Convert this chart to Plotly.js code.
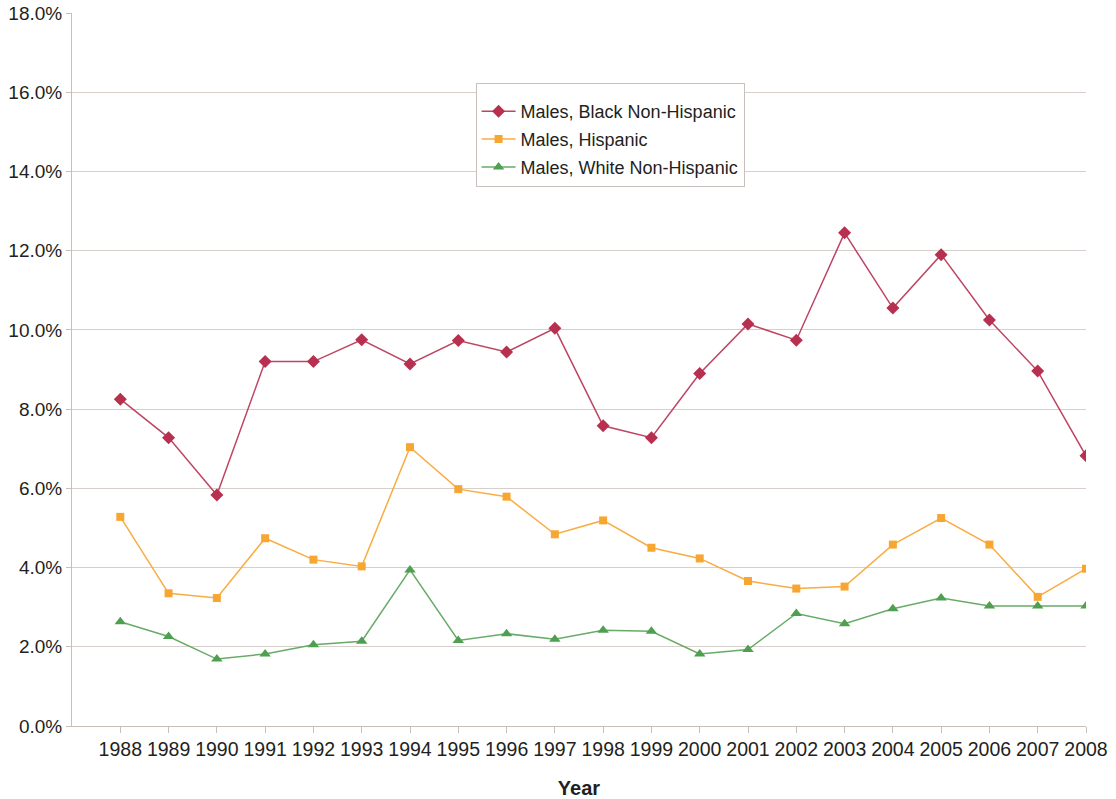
<!DOCTYPE html>
<html>
<head>
<meta charset="utf-8">
<script src="https://cdn.plot.ly/plotly-3.0.1.min.js"></script>
<style>html,body{margin:0;padding:0;background:#fff;}#chart{width:1116px;height:799px;}</style>
</head>
<body>
<div id="chart"></div>
<script>
const years = [1988,1989,1990,1991,1992,1993,1994,1995,1996,1997,1998,1999,2000,2001,2002,2003,2004,2005,2006,2007,2008];
const blackNonHispanic = [8.25,7.28,5.83,9.20,9.20,9.75,9.14,9.73,9.44,10.04,7.58,7.28,8.90,10.15,9.74,12.45,10.55,11.90,10.25,8.96,6.82];
const hispanic = [5.28,3.35,3.23,4.74,4.20,4.03,7.04,5.98,5.79,4.84,5.19,4.50,4.23,3.66,3.47,3.52,4.58,5.25,4.58,3.26,3.97];
const whiteNonHispanic = [2.63,2.26,1.69,1.82,2.05,2.14,3.94,2.16,2.33,2.19,2.42,2.39,1.82,1.93,2.84,2.58,2.96,3.23,3.03,3.03,3.03];
const seriesNames = ["Males, Black Non-Hispanic","Males, Hispanic","Males, White Non-Hispanic"];
const yTicks = [0,2,4,6,8,10,12,14,16,18];

const traces = [
  {x: years, y: blackNonHispanic, name: seriesNames[0], legendgroup: 'a', type: 'scatter', mode: 'lines+markers',
   line: {color: '#bd4563', width: 1.5}, marker: {symbol: 'diamond', size: 10, color: '#b8304f'}},
  {x: years, y: hispanic, name: seriesNames[1], legendgroup: 'b', type: 'scatter', mode: 'lines+markers',
   line: {color: '#f9ac42', width: 1.5}, marker: {symbol: 'square', size: 8, color: '#f8a632'}},
  {x: years, y: whiteNonHispanic, name: seriesNames[2], legendgroup: 'c', type: 'scatter', mode: 'lines+markers',
   line: {color: '#68ab68', width: 1.5}, marker: {symbol: 'triangle-up', size: 10, color: '#4f9f50'}}
];

const layout = {
  width: 1116, height: 799,
  margin: {l: 72, r: 30, t: 13, b: 73, pad: 0},
  paper_bgcolor: '#fff', plot_bgcolor: '#fff',
  font: {family: 'Liberation Sans, Arial, sans-serif', color: '#231f20'},
  showlegend: true,
  legend: {x: 0.398, y: 0.902, xanchor: 'left', yanchor: 'top',
           bgcolor: '#fff', bordercolor: '#c8c0bc', borderwidth: 1,
           title: {text: ' ', font: {size: 7}},
           font: {size: 18, color: '#231f20'}, traceorder: 'grouped', tracegroupgap: 1.5, itemwidth: 34},
  xaxis: {
    range: [1987, 2008], tickmode: 'array', tickvals: years, ticktext: years.map(String),
    showgrid: false, zeroline: false, showline: true, linecolor: '#c8bfbb', linewidth: 1,
    ticks: 'outside', ticklen: 6, tickcolor: '#c8bfbb',
    tickfont: {size: 19.5, color: '#231f20'},
    title: {text: '<b>Year</b>', font: {size: 20, color: '#231f20'}, standoff: 22}
  },
  yaxis: {
    range: [0, 18], tickmode: 'array', tickvals: yTicks, ticktext: yTicks.map(v => v.toFixed(1) + '%'),
    showgrid: true, gridcolor: '#d6cfcb', gridwidth: 1,
    zeroline: false, showline: true, linecolor: '#c8bfbb', linewidth: 1,
    ticks: 'outside', ticklen: 5, tickcolor: '#c8bfbb',
    tickfont: {size: 19, color: '#231f20'}
  }
};

Plotly.newPlot('chart', traces, layout, {displayModeBar: false, staticPlot: true});
</script>
</body>
</html>
